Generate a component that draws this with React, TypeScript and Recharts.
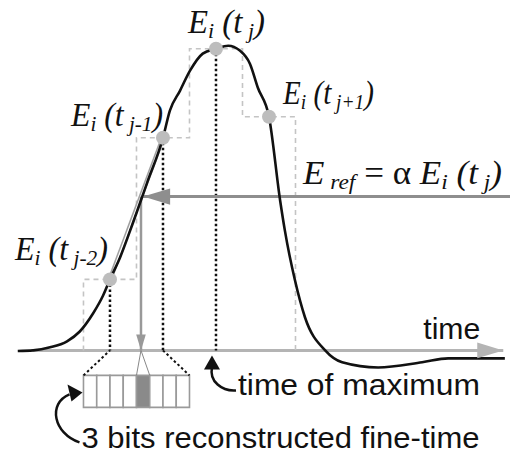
import React from 'react'
import {
	ComposedChart,
	XAxis,
	YAxis,
	Line,
	ReferenceDot,
	ReferenceArea,
} from 'recharts'

// time in sample periods (t_j = 0), energy in % of the sampled maximum
const curveT = [-3.74, -3.45, -3.13, -2.81, -2.57, -2.32, -2.13, -2.0, -1.81, -1.62, -1.3, -1.0, -0.87, -0.68, -0.49, -0.25, 0, 0.23, 0.45, 0.64, 0.79, 1.0, 1.21, 1.3, 1.49, 1.68, 2.06, 2.38, 3.06, 3.89, 4.38, 5.45]
const curveE = [-0.2, 0, 1.0, 3.0, 6.2, 12.1, 18.0, 23.3, 30.5, 39.3, 55, 69.8, 78.7, 85.2, 91.8, 97.4, 99, 100, 98.4, 94.1, 86.2, 76.7, 49.2, 39.3, 23, 10.8, 0, -3.9, -5.6, -3.9, -2.6, -2.6]

const sampleT = [-2, -1, 0, 1]
const sampleE = [23.3, 69.8, 99, 76.7]
const sampleSubs = ['j-2', 'j-1', 'j', 'j+1']

const eRef = 50.5
const registerBits = [0, 0, 0, 0, 1, 0, 0, 0]
const registerRange = [-2.5, -0.5]
const registerLevels = [-8.2, -18.7]
const axisRange = [-3.45, 5.42]

const xDomain = [-4.075, 5.547]
const yDomain = [-34, 115]

const serif = "'Liberation Serif', 'Times New Roman', serif"
const sans = "'Liberation Sans', Arial, Helvetica, sans-serif"

// derived series
const curveData = curveT.map((t, i) => ({ t, e: curveE[i] }))
const holdData = [{ t: sampleT[0] - 0.5, e: 0 }]
sampleT.forEach((t, i) => {
	holdData.push({ t: t - 0.5, e: sampleE[i] }, { t: t + 0.5, e: sampleE[i] })
})
holdData.push({ t: sampleT[sampleT.length - 1] + 0.5, e: 0 })

const tCross = sampleT[0] + ((eRef - sampleE[0]) / (sampleE[1] - sampleE[0])) * (sampleT[1] - sampleT[0])
const cellW = (registerRange[1] - registerRange[0]) / registerBits.length
const hitCell = registerBits.indexOf(1)

type Part = { s: string; sub?: boolean; up?: boolean }
const eLabel = (sub: string): Part[] => [
	{ s: 'E' },
	{ s: 'i', sub: true },
	{ s: ' (t' },
	{ s: ' ' + sub, sub: true },
	{ s: ')' },
]

const MathText = ({ x, y, width, parts }: { x: number; y: number; width: number; parts: Part[] }) => {
	let shift = 0
	return (
		<text x={x} y={y} textLength={width} lengthAdjust='spacingAndGlyphs' fontFamily={serif} fill='#111'>
			{parts.map((p, i) => {
				const target = p.sub ? 5 : 0
				const dy = target - shift
				shift = target
				return (
					<tspan key={i} dy={dy} fontSize={p.sub ? 22 : 33} fontStyle={p.up ? 'normal' : 'italic'}>
						{p.s}
					</tspan>
				)
			})}
		</text>
	)
}

// label offsets from each sample dot: [dx, dy, width]
const labelPos = [
	[-95, -19, 93],
	[-92, -12, 92],
	[-28, -16, 77],
	[14, -13, 91],
]

const arrowHead = (dir: string, size: number, fill: string, last: number) => (props: any) => {
	const { cx, cy, index } = props
	if (index !== last) return <g key={`n${index}`} />
	const l = size
	const h = size * 0.3
	let pts = ''
	if (dir === 'left') pts = `${cx},${cy} ${cx + l},${cy - h} ${cx + l},${cy + h}`
	if (dir === 'right') pts = `${cx},${cy} ${cx - l},${cy - h} ${cx - l},${cy + h}`
	if (dir === 'down') pts = `${cx},${cy} ${cx - h},${cy - l} ${cx + h},${cy - l}`
	return <polygon key={`a${index}`} points={pts} fill={fill} />
}

const App: React.FC = () => {
	return (
		<div style={{ position: 'absolute', left: 0, top: 0, background: '#fff' }}>
			<ComposedChart width={510} height={454} margin={{ top: 0, right: 0, bottom: 0, left: 0 }}>
				<XAxis type='number' dataKey='t' domain={xDomain} allowDataOverflow hide />
				<YAxis type='number' dataKey='e' domain={yDomain} allowDataOverflow hide />

				{/* time axis */}
				<Line
					data={[{ t: axisRange[0], e: 0 }, { t: axisRange[1], e: 0 }]}
					dataKey='e'
					type='linear'
					stroke='#b4b4b4'
					strokeWidth={3}
					dot={arrowHead('right', 26, '#b4b4b4', 1)}
					activeDot={false}
					isAnimationActive={false}
				/>

				{/* sample-and-hold steps */}
				<Line
					data={holdData}
					dataKey='e'
					type='linear'
					stroke='#c4c4c4'
					strokeWidth={1.6}
					strokeDasharray='5 4'
					dot={false}
					activeDot={false}
					isAnimationActive={false}
				/>

				{/* dotted verticals from the samples */}
				{sampleT.slice(0, 3).map((t, i) => (
					<Line
						key={`v${i}`}
						data={[{ t, e: sampleE[i] }, { t, e: 0 }]}
						dataKey='e'
						type='linear'
						stroke='#111'
						strokeWidth={2.5}
						strokeDasharray='2.5 2.5'
						dot={false}
						activeDot={false}
						isAnimationActive={false}
					/>
				))}

				{/* dotted lines to the register */}
				<Line
					data={[{ t: registerRange[0], e: registerLevels[0] }, { t: sampleT[0], e: 0 }]}
					dataKey='e'
					stroke='#111'
					strokeWidth={2}
					strokeDasharray='2.5 2.5'
					dot={false}
					activeDot={false}
					isAnimationActive={false}
				/>
				<Line
					data={[{ t: sampleT[1], e: 0 }, { t: registerRange[1], e: registerLevels[0] }]}
					dataKey='e'
					stroke='#111'
					strokeWidth={2}
					strokeDasharray='2.5 2.5'
					dot={false}
					activeDot={false}
					isAnimationActive={false}
				/>
				<Line
					data={[
						{ t: registerRange[0] + hitCell * cellW, e: registerLevels[0] },
						{ t: tCross, e: 0 },
						{ t: registerRange[0] + (hitCell + 1) * cellW, e: registerLevels[0] },
					]}
					dataKey='e'
					stroke='#888'
					strokeWidth={1}
					dot={false}
					activeDot={false}
					isAnimationActive={false}
				/>

				{/* register cells */}
				{registerBits.map((b, i) => (
					<ReferenceArea
						key={`c${i}`}
						x1={registerRange[0] + i * cellW}
						x2={registerRange[0] + (i + 1) * cellW}
						y1={registerLevels[1]}
						y2={registerLevels[0]}
						fill={b ? '#8a8a8a' : '#fff'}
						fillOpacity={1}
						stroke='#9a9a9a'
						strokeWidth={1.6}
						ifOverflow='visible'
					/>
				))}

				{/* linear interpolation between samples */}
				<Line
					data={[{ t: sampleT[0], e: sampleE[0] }, { t: sampleT[1], e: sampleE[1] }]}
					dataKey='e'
					stroke='#a0a0a0'
					strokeWidth={4.5}
					dot={false}
					activeDot={false}
					isAnimationActive={false}
				/>
				<Line
					data={[{ t: sampleT[0], e: sampleE[0] }, { t: sampleT[1], e: sampleE[1] }]}
					dataKey='e'
					stroke='#fff'
					strokeWidth={1.5}
					dot={false}
					activeDot={false}
					isAnimationActive={false}
				/>

				{/* E_ref threshold arrow */}
				<Line
					data={[{ t: xDomain[1], e: eRef }, { t: tCross + 0.04, e: eRef }]}
					dataKey='e'
					stroke='#8e8e8e'
					strokeWidth={3}
					dot={arrowHead('left', 27, '#8e8e8e', 1)}
					activeDot={false}
					isAnimationActive={false}
				/>
				<Line
					data={[{ t: tCross, e: eRef }, { t: tCross, e: 0 }]}
					dataKey='e'
					stroke='#999'
					strokeWidth={2.5}
					dot={arrowHead('down', 16, '#999', 1)}
					activeDot={false}
					isAnimationActive={false}
				/>

				{/* pulse */}
				<Line
					data={curveData}
					dataKey='e'
					type='monotone'
					stroke='#111'
					strokeWidth={2.6}
					dot={false}
					activeDot={false}
					isAnimationActive={false}
				/>

				{/* samples with labels */}
				{sampleT.map((t, i) => (
					<ReferenceDot
						key={`s${i}`}
						x={t}
						y={sampleE[i]}
						r={7}
						ifOverflow='visible'
						shape={(p: any) => (
							<g>
								<circle cx={p.cx} cy={p.cy} r={7} fill='#bdbdbd' />
								<MathText
									x={p.cx + labelPos[i][0]}
									y={p.cy + labelPos[i][1]}
									width={labelPos[i][2]}
									parts={eLabel(sampleSubs[i])}
								/>
							</g>
						)}
					/>
				))}

				{/* E_ref label */}
				<ReferenceDot
					x={xDomain[1]}
					y={eRef}
					r={0}
					ifOverflow='visible'
					shape={(p: any) => (
						<MathText
							x={p.cx - 207}
							y={p.cy - 13}
							width={199}
							parts={[
								{ s: 'E' },
								{ s: ' ref', sub: true },
								{ s: ' = α ', up: true },
								...eLabel('j'),
							]}
						/>
					)}
				/>

				{/* time axis label */}
				<ReferenceDot
					x={axisRange[1]}
					y={0}
					r={0}
					ifOverflow='visible'
					shape={(p: any) => (
						<text x={p.cx - 80} y={p.cy - 11} textLength={57} lengthAdjust='spacingAndGlyphs' fontFamily={sans} fontSize={30} fill='#111'>
							time
						</text>
					)}
				/>

				{/* time of maximum note */}
				<ReferenceDot
					x={sampleT[2]}
					y={0}
					r={0}
					ifOverflow='visible'
					shape={(p: any) => (
						<g>
							<path
								d={`M ${p.cx + 20} ${p.cy + 40} C ${p.cx + 6} ${p.cy + 41} ${p.cx - 7} ${p.cy + 31} ${p.cx - 4} ${p.cy + 17}`}
								fill='none'
								stroke='#111'
								strokeWidth={2.5}
							/>
							<polygon
								points={`${p.cx - 4},${p.cy + 5} ${p.cx - 12},${p.cy + 19} ${p.cx + 4},${p.cy + 19}`}
								fill='#111'
							/>
							<text x={p.cx + 22} y={p.cy + 45} textLength={242} lengthAdjust='spacingAndGlyphs' fontFamily={sans} fontSize={30} fill='#111'>
								time of maximum
							</text>
						</g>
					)}
				/>

				{/* register note */}
				<ReferenceDot
					x={registerRange[0]}
					y={(registerLevels[0] + registerLevels[1]) / 2}
					r={0}
					ifOverflow='visible'
					shape={(p: any) => (
						<g>
							<path
								d={`M ${p.cx - 4} ${p.cy + 51} C ${p.cx - 30} ${p.cy + 42} ${p.cx - 36} ${p.cy + 12} ${p.cx - 14} ${p.cy + 3}`}
								fill='none'
								stroke='#111'
								strokeWidth={2.5}
							/>
							<polygon
								points={`${p.cx - 1},${p.cy + 1} ${p.cx - 16},${p.cy - 7} ${p.cx - 12},${p.cy + 10}`}
								fill='#111'
							/>
							<text x={p.cx - 2} y={p.cy + 57} textLength={398} lengthAdjust='spacingAndGlyphs' fontFamily={sans} fontSize={30} fill='#111'>
								3 bits reconstructed fine-time
							</text>
						</g>
					)}
				/>
			</ComposedChart>
		</div>
	)
}

export default App
